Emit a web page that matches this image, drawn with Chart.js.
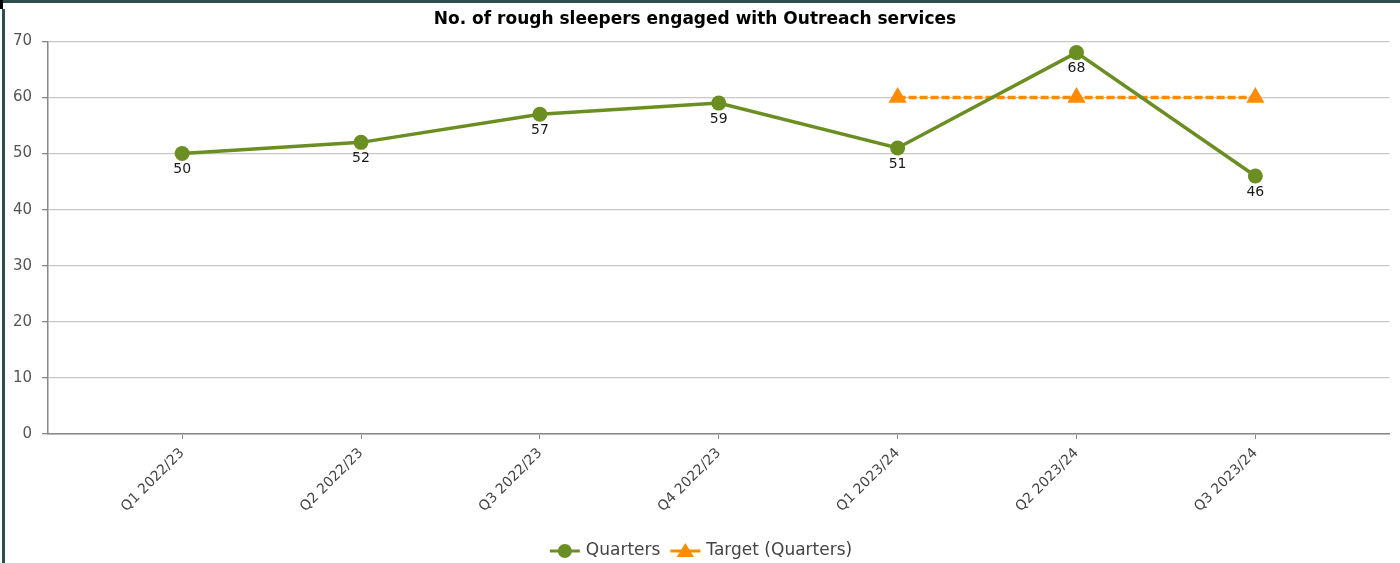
<!DOCTYPE html>
<html>
<head>
<meta charset="utf-8">
<script src="https://cdn.jsdelivr.net/npm/chart.js@4/dist/chart.umd.min.js"></script>
<style>
  html, body { margin: 0; padding: 0; background: #ffffff; }
  #wrap { position: relative; width: 1400px; height: 563px; overflow: hidden; }
  #c { position: absolute; left: 0; top: 0; }
  .bt { position: absolute; left: 3px; top: 0; width: 1397px; height: 3px; background: #2f4f4f; }
  .bl { position: absolute; left: 2px; top: 9px; width: 3px; height: 554px; background: #2f4f4f; }
  .bk { position: absolute; left: 0; top: 0; width: 3px; height: 9px; background: #000; }
</style>
</head>
<body>
<div id="wrap">
  <canvas id="c" width="1400" height="563"></canvas>
  <div class="bt"></div><div class="bl"></div><div class="bk"></div>
</div>
<script>
const chartTitle = 'No. of rough sleepers engaged with Outreach services';
const categories = ['Q1 2022/23', 'Q2 2022/23', 'Q3 2022/23', 'Q4 2022/23', 'Q1 2023/24', 'Q2 2023/24', 'Q3 2023/24'];
const quarters = [50, 52, 57, 59, 51, 68, 46];
const target = [null, null, null, null, 60, 60, 60];
const yTicks = [0, 10, 20, 30, 40, 50, 60, 70];
const seriesNames = ['Quarters', 'Target (Quarters)'];

const GREEN = '#6b8e23';
const ORANGE = '#ff8c00';
const FONT = "'DejaVu Sans', Verdana, sans-serif";

const toXY = arr => arr.map((v, i) => ({ x: i, y: v }));

const labelPlugin = {
  id: 'valueLabels',
  afterDatasetsDraw(chart) {
    const ctx = chart.ctx;
    const meta = chart.getDatasetMeta(0);
    ctx.save();
    ctx.font = '14px ' + FONT;
    ctx.fillStyle = '#1a1a1a';
    ctx.textAlign = 'center';
    ctx.textBaseline = 'middle';
    meta.data.forEach((pt, i) => {
      ctx.fillText(String(quarters[i]), pt.x, pt.y + 16);
    });
    ctx.restore();
  }
};

const legendPlugin = {
  id: 'customLegend',
  afterDraw(chart) {
    const ctx = chart.ctx;
    ctx.save();
    ctx.font = '17px ' + FONT;
    const iconW = 30, gapIconText = 6, gapItems = 10;
    const w0 = ctx.measureText(seriesNames[0]).width;
    const w1 = ctx.measureText(seriesNames[1]).width;
    const total = iconW + gapIconText + w0 + gapItems + iconW + gapIconText + w1;
    let x = 701 - total / 2;
    const y = 551;
    ctx.strokeStyle = GREEN; ctx.lineWidth = 3;
    ctx.beginPath(); ctx.moveTo(x, y); ctx.lineTo(x + iconW, y); ctx.stroke();
    ctx.fillStyle = GREEN;
    ctx.beginPath(); ctx.arc(x + iconW / 2, y, 7, 0, Math.PI * 2); ctx.fill();
    x += iconW + gapIconText;
    ctx.fillStyle = '#444'; ctx.textBaseline = 'middle'; ctx.textAlign = 'left';
    ctx.fillText(seriesNames[0], x, y);
    x += w0 + gapItems;
    ctx.strokeStyle = ORANGE; ctx.lineWidth = 3;
    ctx.beginPath(); ctx.moveTo(x, y); ctx.lineTo(x + iconW, y); ctx.stroke();
    ctx.fillStyle = ORANGE;
    const cx = x + iconW / 2, r = 10;
    ctx.beginPath();
    ctx.moveTo(cx, y - r * 0.8);
    ctx.lineTo(cx + r * 0.866, y + r * 0.6);
    ctx.lineTo(cx - r * 0.866, y + r * 0.6);
    ctx.closePath(); ctx.fill();
    x += iconW + gapIconText;
    ctx.fillStyle = '#444';
    ctx.fillText(seriesNames[1], x, y);
    ctx.restore();
  }
};

new Chart(document.getElementById('c'), {
  type: 'line',
  data: {
    datasets: [
      {
        label: seriesNames[0],
        data: toXY(quarters),
        borderColor: GREEN,
        backgroundColor: GREEN,
        borderWidth: 3.5,
        pointRadius: 7.5,
        pointHoverRadius: 7.5,
        pointBackgroundColor: GREEN,
        pointBorderWidth: 0,
        tension: 0
      },
      {
        label: seriesNames[1],
        data: toXY(target),
        borderColor: ORANGE,
        backgroundColor: ORANGE,
        borderWidth: 3.5,
        borderDash: [8, 3],
        pointStyle: 'triangle',
        pointRadius: 10.5,
        pointHoverRadius: 10.5,
        pointBackgroundColor: ORANGE,
        pointBorderWidth: 0,
        tension: 0
      }
    ]
  },
  options: {
    responsive: false,
    animation: false,
    events: [],
    layout: { padding: { left: 0, right: 10, top: 0, bottom: 0 } },
    plugins: {
      legend: { display: false },
      tooltip: { enabled: false },
      title: {
        display: true,
        text: chartTitle,
        color: '#000',
        font: { family: FONT, size: 17, weight: 'bold', lineHeight: 1.2 },
        padding: { top: 9, bottom: 12 }
      }
    },
    scales: {
      x: {
        type: 'linear',
        min: -0.75,
        max: 6.75,
        afterBuildTicks: s => { s.ticks = categories.map((_, i) => ({ value: i })); },
        afterFit: s => { s.height = 129; },
        ticks: {
          autoSkip: false,
          minRotation: 45,
          maxRotation: 45,
          padding: 6,
          color: '#444',
          font: { family: FONT, size: 14 },
          callback: v => categories[v]
        },
        grid: { drawOnChartArea: false, drawTicks: true, tickLength: 5, tickColor: '#888' },
        border: { color: '#888', width: 1.5 }
      },
      y: {
        min: 0,
        max: 70,
        afterBuildTicks: s => { s.ticks = yTicks.map(v => ({ value: v })); },
        afterFit: s => { s.width = 48; },
        ticks: {
          padding: 10,
          color: '#555',
          font: { family: FONT, size: 15 }
        },
        grid: { color: '#c8c8c8', lineWidth: 1.3, tickLength: 6, tickColor: '#888' },
        border: { color: '#888', width: 1.5 }
      }
    }
  },
  plugins: [labelPlugin, legendPlugin]
});
</script>
</body>
</html>
